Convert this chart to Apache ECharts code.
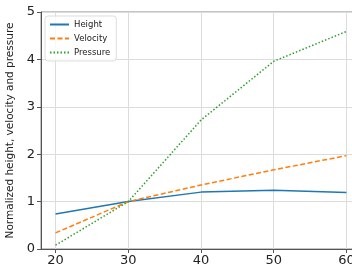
<!DOCTYPE html>
<html lang="en">
<head>
    <meta charset="UTF-8">
    <title>Normalized height, velocity and pressure</title>
    <script type="text/javascript" src="https://cdn.jsdelivr.net/npm/echarts@6/dist/echarts.min.js"></script>
    <style>
        html, body { margin: 0; padding: 0; background: #fff; }
    </style>
</head>
<body>
    <div id="charts" style="width:352px;height:272px;"></div>
</body>
<script type="text/javascript">
    // data
    var xValues = [20, 30, 40, 50, 60];
    var height = [0.74, 1.0, 1.2, 1.24, 1.19];
    var velocity = [0.34, 1.0, 1.35, 1.67, 1.97];
    var pressure = [0.08, 1.0, 2.72, 3.96, 4.59];

    function pairs(ys) {
        return xValues.map(function (x, i) { return [x, ys[i]]; });
    }

    var myChart = echarts.init(document.getElementById('charts'));

    var tickFont = { fontFamily: 'DejaVu Sans', fontSize: 13, color: '#222' };

    option = {
        animation: false,
        textStyle: { fontFamily: 'DejaVu Sans' },
        grid: {
            left: 41, top: 12, right: -9, bottom: 23,
            outerBoundsMode: 'none',
            show: true, borderColor: '#888', borderWidth: 1
        },
        legend: {
            left: 45, top: 16, orient: 'vertical',
            itemWidth: 19, itemHeight: 8, itemGap: 5,
            padding: [4, 6, 4, 4],
            borderColor: '#ddd', borderWidth: 1, borderRadius: 3,
            backgroundColor: 'rgba(255,255,255,0.8)',
            itemStyle: { opacity: 0 },
            textStyle: { fontSize: 8.5, color: '#222' },
            data: ['Height', 'Velocity', 'Pressure']
        },
        xAxis: {
            type: 'value', min: 18, max: 62,
            axisLine: { lineStyle: { color: '#555' } },
            axisTick: { show: true, length: 4, lineStyle: { color: '#555' }, customValues: xValues },
            axisLabel: Object.assign({ margin: 5, customValues: xValues }, tickFont),
            splitLine: { show: true, lineStyle: { color: '#dcdcdc' } },
            interval: 10
        },
        yAxis: {
            type: 'value', min: 0, max: 5, interval: 1,
            name: 'Normalized height, velocity and pressure',
            nameLocation: 'middle', nameGap: 25,
            nameTextStyle: { fontSize: 10.5, color: '#222' },
            axisLine: { show: true, lineStyle: { color: '#555' } },
            axisTick: { show: true, length: 4, lineStyle: { color: '#555' } },
            axisLabel: Object.assign({ margin: 6 }, tickFont),
            splitLine: { show: true, lineStyle: { color: '#dcdcdc' } }
        },
        series: [{
            name: 'Height', type: 'line', data: pairs(height),
            symbol: 'none', lineStyle: { color: '#1f77b4', width: 1.5 },
            itemStyle: { color: '#1f77b4' }
        }, {
            name: 'Velocity', type: 'line', data: pairs(velocity),
            symbol: 'none', lineStyle: { color: '#ff7f0e', width: 1.5, type: [5, 2.5] },
            itemStyle: { color: '#ff7f0e' }
        }, {
            name: 'Pressure', type: 'line', data: pairs(pressure),
            symbol: 'none', lineStyle: { color: '#2ca02c', width: 1.5, type: [1.5, 2] },
            itemStyle: { color: '#2ca02c' }
        }]
    };

    myChart.setOption(option);
</script>
</html>
